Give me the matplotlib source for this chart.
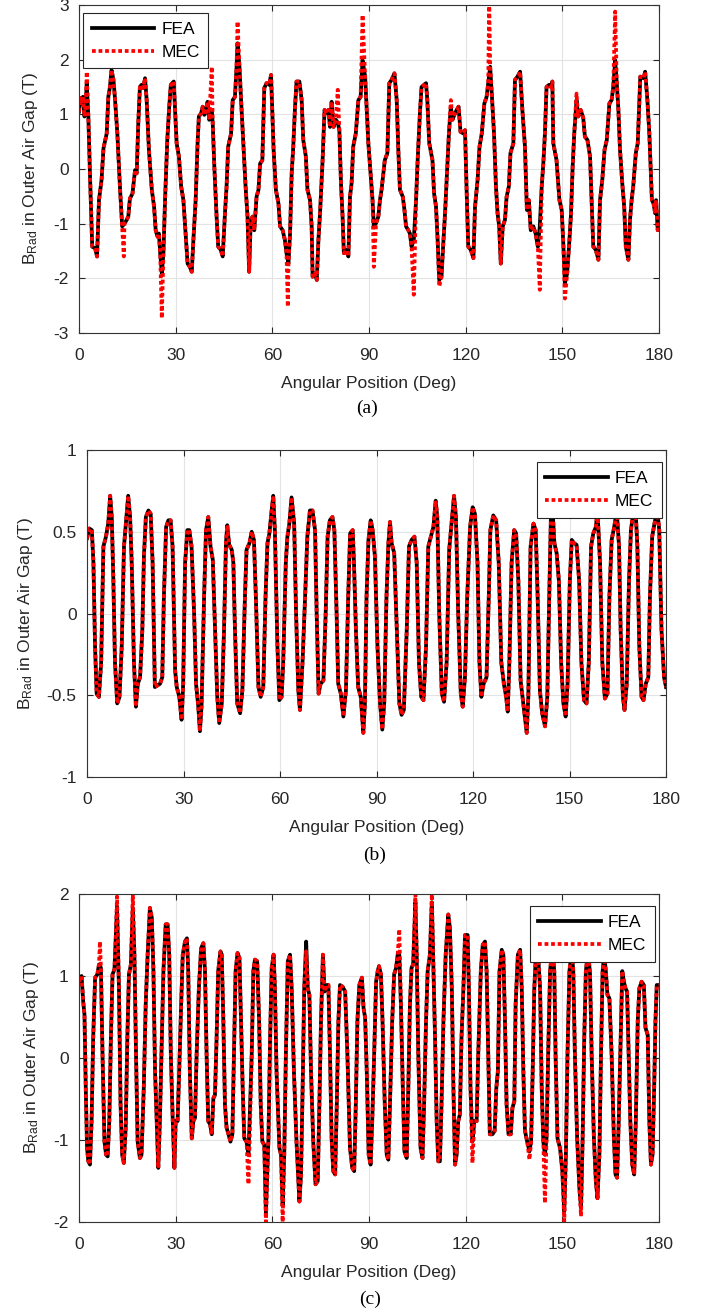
import matplotlib
matplotlib.use('Agg')
import matplotlib.pyplot as plt

# angular position (deg) and radial flux density (T)
ang_a = [0.0, 0.4, 0.8, 1.2, 1.7, 2.1, 2.4, 2.9, 3.4, 4.1, 5.0, 5.6, 6.2, 7.0, 7.6, 8.6, 9.1, 9.6, 10.1, 10.7,
         11.2, 11.9, 12.7, 13.4, 14.1, 14.8, 15.3, 15.8, 16.6, 17.4, 17.9, 18.4, 18.9, 19.4, 19.9, 20.5, 21.0,
         21.7, 22.6, 23.3, 23.8, 24.4, 24.8, 25.2, 25.7, 26.2, 26.7, 27.4, 28.0, 28.5, 29.4, 29.8, 30.3, 31.0,
         31.7, 32.4, 33.1, 33.7, 34.4, 35.0, 35.5, 36.2, 36.8, 37.2, 37.9, 38.4, 38.9, 39.4, 39.9, 40.4, 41.2,
         41.5, 42.0, 42.7, 43.2, 44.0, 44.6, 45.3, 45.8, 46.3, 47.2, 47.7, 48.4, 48.9, 49.2, 49.8, 50.3, 51.0,
         51.7, 52.3, 52.8, 53.3, 53.9, 54.4, 55.1, 55.7, 56.2, 56.9, 57.5, 58.2, 59.0, 59.6, 59.9, 60.4, 61.1,
         61.9, 62.4, 63.2, 63.9, 64.4, 65.0, 65.5, 66.0, 66.5, 67.0, 67.5, 68.4, 69.1, 69.6, 70.4, 70.9, 71.7,
         72.2, 72.5, 73.2, 73.8, 74.3, 74.8, 75.6, 76.2, 76.7, 77.4, 77.9, 78.4, 79.0, 79.7, 80.3, 80.8, 81.3,
         81.8, 82.2, 82.9, 83.6, 84.1, 84.6, 85.1, 85.9, 86.7, 87.4, 88.0, 88.8, 89.3, 89.8, 90.5, 91.1, 91.5,
         92.2, 92.9, 93.4, 93.9, 94.9, 95.7, 96.3, 97.0, 97.9, 98.6, 99.1, 99.6, 100.5, 101.0, 101.5, 102.2,
         102.7, 103.2, 103.9, 104.6, 105.1, 105.8, 106.3, 107.1, 107.7, 108.1, 108.7, 109.7, 110.2, 110.8,
         111.3, 111.8, 112.5, 113.0, 113.6, 114.3, 114.8, 115.4, 115.9, 116.7, 117.2, 117.8, 118.4, 119.3,
         119.8, 120.3, 120.8, 121.6, 122.4, 122.9, 123.7, 124.3, 125.0, 125.8, 126.5, 127.0, 127.6, 128.1,
         128.8, 129.4, 129.9, 130.4, 130.9, 131.5, 132.2, 132.7, 133.4, 133.9, 134.8, 135.3, 136.1, 136.9,
         137.6, 138.4, 139.0, 139.6, 140.2, 141.0, 141.7, 142.4, 143.0, 143.6, 144.1, 144.6, 145.1, 145.9,
         146.5, 146.9, 147.2, 148.2, 149.1, 149.8, 150.3, 150.8, 151.5, 152.2, 152.7, 153.2, 153.7, 154.4,
         154.9, 155.7, 156.5, 157.0, 157.8, 158.6, 159.1, 159.6, 160.4, 161.2, 161.7, 162.4, 163.1, 163.8,
         164.6, 165.3, 165.8, 166.4, 166.9, 167.4, 167.9, 168.6, 169.2, 169.7, 170.5, 171.0, 171.5, 172.0,
         172.8, 173.4, 174.2, 175.2, 175.7, 176.4, 177.0, 177.8, 178.3, 178.8, 179.1, 179.6, 180.0]
fea_a = [1.05, 1.3, 1.2, 1.32, 0.96, 1.2, 1.57, 0.96, -0.08, -1.42, -1.45, -1.6, -0.57, -0.2, 0.38, 0.65, 1.32,
         1.5, 1.81, 1.63, 1.26, 0.65, -0.32, -1.05, -1.0, -0.93, -0.87, -0.54, -0.45, -0.02, -0.08, 0.84, 1.5,
         1.54, 1.48, 1.66, 1.26, 0.35, -0.38, -0.69, -1.12, -1.24, -1.18, -1.54, -1.91, -1.54, -0.57, 0.53, 1.14,
         1.54, 1.6, 1.08, 0.47, 0.23, -0.32, -0.57, -1.18, -1.73, -1.79, -1.88, -1.3, -0.57, 0.47, 0.96, 1.02,
         1.14, 0.99, 1.08, 1.23, 0.9, 1.08, 0.84, 0.04, -0.87, -1.42, -1.48, -1.6, -0.81, -0.32, 0.41, 0.65,
         1.26, 1.32, 1.87, 2.3, 1.87, 1.26, 0.47, -0.32, -0.87, -1.88, -0.93, -0.87, -1.12, -0.51, -0.38, 0.1,
         0.16, 1.48, 1.57, 1.54, 1.72, 1.2, 0.35, -0.38, -0.63, -1.05, -1.12, -1.3, -1.54, -1.73, -1.18, -0.08,
         0.41, 1.08, 1.6, 1.6, 1.26, 0.53, 0.23, -0.38, -0.57, -1.05, -1.97, -1.91, -2.03, -1.3, -0.81, 0.16,
         1.08, 1.02, 1.08, 0.77, 1.23, 0.77, 0.9, 0.85, 0.71, -0.26, -0.87, -1.54, -1.48, -1.6, -0.51, -0.26,
         0.41, 0.65, 1.26, 1.32, 1.99, 1.69, 1.08, 0.47, -0.08, -0.57, -1.05, -0.99, -0.87, -0.57, -0.38, 0.16,
         0.29, 1.57, 1.63, 1.75, 1.26, 0.35, -0.38, -0.51, -0.75, -1.05, -1.12, -1.18, -1.42, -1.3, -0.57, 0.16,
         1.02, 1.5, 1.54, 1.57, 1.26, 0.47, 0.16, -0.45, -0.69, -1.3, -2.03, -1.97, -1.42, -0.81, 0.04, 0.65,
         1.14, 0.9, 1.02, 1.08, 1.14, 0.68, 0.65, 0.71, -0.4, -1.42, -1.48, -1.63, -0.69, -0.2, 0.41, 0.65, 1.2,
         1.32, 1.57, 1.87, 1.38, 0.65, -0.32, -0.81, -1.05, -1.73, -1.05, -0.93, -0.51, -0.32, 0.29, 0.47, 1.63,
         1.69, 1.78, 1.08, 0.41, -0.75, -0.57, -1.12, -1.05, -1.18, -1.42, -1.05, -0.32, 0.1, 0.65, 1.5, 1.54,
         1.5, 1.6, 0.47, 0.16, -0.57, -0.75, -1.36, -2.09, -1.91, -1.3, -0.81, 0.04, 0.65, 1.26, 0.96, 1.08,
         0.93, 0.59, 0.53, 0.23, -0.57, -1.42, -1.48, -1.66, -0.57, -0.2, 0.35, 0.53, 1.2, 1.26, 1.5, 1.99, 1.57,
         1.08, 0.35, -0.26, -0.69, -1.42, -1.66, -0.93, -0.57, -0.32, 0.29, 0.47, 1.69, 1.66, 1.78, 1.26, 0.65,
         -0.57, -0.63, -0.81, -0.57, -1.12, -0.99]
# MEC follows FEA except at these narrow spikes
mec_spike_ang_a = [2.4, 13.9, 25.7, 41.2, 49.2, 64.8, 80.3, 88.0, 91.5, 103.9, 111.8, 115.4, 127.3, 143.0,
                   150.8, 154.4, 166.4]
mec_spike_val_a = [1.78, -1.6, -2.73, 1.87, 2.7, -2.52, 1.45, 2.82, -1.79, -2.3, -2.15, 1.26, 3.1, -2.21,
                   -2.37, 1.38, 2.88]

ang_b = [0.0, 0.7, 1.5, 2.0, 2.5, 3.0, 3.7, 4.4, 5.1, 5.9, 6.6, 7.2, 7.7, 8.2, 8.7, 9.4, 10.1, 10.8, 11.5, 12.1,
         12.8, 13.4, 13.9, 14.6, 15.2, 15.8, 16.5, 17.2, 17.7, 18.3, 19.1, 19.8, 20.4, 21.1, 21.9, 22.7, 23.4,
         23.9, 24.6, 25.3, 26.0, 26.6, 27.4, 27.9, 28.7, 29.4, 29.9, 30.5, 31.2, 31.8, 32.5, 33.3, 33.9, 34.6,
         35.1, 35.6, 36.4, 37.0, 37.7, 38.4, 39.1, 39.8, 40.5, 41.1, 41.9, 42.6, 43.2, 43.6, 44.2, 45.0, 45.5,
         46.0, 46.7, 47.6, 48.3, 49.1, 49.6, 50.5, 51.2, 51.9, 52.5, 53.3, 54.0, 54.8, 55.5, 56.1, 56.7, 57.4,
         57.9, 58.4, 59.2, 59.8, 60.5, 61.0, 61.8, 62.3, 62.9, 63.6, 64.4, 65.0, 65.7, 66.2, 67.0, 67.8, 68.5,
         69.3, 70.1, 70.9, 71.4, 72.0, 72.6, 73.5, 74.2, 74.8, 75.5, 76.3, 76.9, 77.6, 78.1, 78.9, 79.7, 80.5,
         81.2, 81.8, 82.6, 83.0, 83.6, 84.3, 85.1, 85.9, 86.4, 86.9, 87.5, 88.2, 88.8, 89.5, 90.3, 91.1, 91.8,
         92.4, 93.1, 93.7, 94.2, 94.7, 95.5, 96.3, 97.1, 97.8, 98.5, 99.4, 100.1, 100.9, 101.8, 102.5, 103.2,
         103.9, 104.6, 105.4, 106.1, 106.9, 107.7, 108.4, 108.9, 109.5, 110.3, 111.0, 111.8, 112.6, 113.4,
         114.1, 114.7, 115.4, 116.2, 116.8, 117.5, 118.2, 119.1, 119.9, 120.6, 121.4, 122.0, 122.6, 123.3,
         124.2, 124.9, 125.4, 126.3, 127.2, 128.0, 128.8, 129.6, 130.3, 130.8, 131.3, 132.0, 132.8, 133.4,
         134.1, 134.8, 135.4, 136.0, 136.7, 137.2, 137.9, 138.8, 139.5, 140.1, 140.8, 141.5, 142.4, 143.1,
         143.7, 144.2, 144.7, 145.3, 146.0, 146.7, 147.4, 148.1, 148.8, 149.4, 150.1, 150.7, 151.4, 152.2,
         153.0, 153.7, 154.5, 155.3, 156.0, 156.7, 157.4, 158.2, 158.7, 159.5, 160.2, 161.0, 161.8, 162.4,
         163.1, 163.9, 164.7, 165.4, 165.9, 166.6, 167.1, 167.8, 168.5, 169.1, 169.9, 170.6, 171.1, 171.7,
         172.4, 173.0, 173.7, 174.5, 175.0, 175.7, 176.6, 177.3, 177.9, 178.6, 179.4, 180.0]
fea_b = [0.46, 0.52, 0.51, 0.31, -0.2, -0.49, -0.51, -0.3, 0.41, 0.47, 0.55, 0.72, 0.59, 0.2, -0.3, -0.55, -0.51,
         -0.2, 0.41, 0.55, 0.72, 0.59, 0.31, -0.3, -0.57, -0.43, -0.39, -0.1, 0.35, 0.59, 0.63, 0.61, 0.31, -0.45,
         -0.44, -0.43, -0.39, 0.1, 0.53, 0.57, 0.57, 0.41, -0.35, -0.45, -0.51, -0.65, -0.43, 0.31, 0.51, 0.51,
         0.41, 0.0, -0.43, -0.57, -0.72, -0.57, 0.1, 0.51, 0.59, 0.41, 0.33, -0.1, -0.51, -0.67, -0.55, -0.1,
         0.43, 0.54, 0.42, 0.39, 0.31, -0.1, -0.55, -0.61, -0.47, 0.1, 0.39, 0.43, 0.5, 0.45, 0.1, -0.45, -0.51,
         -0.45, 0.1, 0.43, 0.49, 0.63, 0.72, 0.51, -0.2, -0.53, -0.51, -0.3, 0.31, 0.47, 0.55, 0.71, 0.55, 0.0,
         -0.47, -0.59, -0.3, 0.1, 0.47, 0.63, 0.63, 0.51, 0.0, -0.49, -0.43, -0.41, 0.0, 0.47, 0.57, 0.59, 0.51,
         0.0, -0.43, -0.49, -0.63, -0.47, 0.1, 0.49, 0.51, 0.31, -0.1, -0.45, -0.51, -0.73, -0.55, 0.1, 0.45,
         0.57, 0.51, 0.35, -0.2, -0.55, -0.71, -0.55, 0.1, 0.43, 0.56, 0.43, 0.37, -0.1, -0.55, -0.62, -0.59,
         -0.1, 0.41, 0.45, 0.47, 0.31, -0.3, -0.51, -0.53, -0.2, 0.41, 0.47, 0.53, 0.69, 0.59, 0.0, -0.49,
         -0.54, -0.3, 0.39, 0.57, 0.72, 0.59, 0.0, -0.49, -0.57, -0.39, 0.1, 0.53, 0.65, 0.61, 0.31, -0.3,
         -0.51, -0.43, -0.39, 0.1, 0.51, 0.6, 0.57, 0.31, -0.3, -0.43, -0.51, -0.6, -0.3, 0.31, 0.51, 0.49, 0.2,
         -0.41, -0.51, -0.61, -0.73, -0.51, 0.41, 0.55, 0.51, 0.1, -0.47, -0.61, -0.69, -0.51, 0.1, 0.57, 0.65,
         0.43, 0.37, 0.2, -0.3, -0.55, -0.63, -0.43, 0.2, 0.45, 0.43, 0.42, 0.2, -0.3, -0.53, -0.55, -0.3, 0.41,
         0.49, 0.53, 0.63, 0.31, -0.3, -0.52, -0.49, 0.1, 0.45, 0.53, 0.63, 0.41, -0.1, -0.51, -0.59, -0.43, 0.2,
         0.51, 0.63, 0.61, 0.41, -0.2, -0.51, -0.53, -0.43, -0.39, 0.1, 0.47, 0.57, 0.63, 0.51, -0.1, -0.39,
         -0.45]
mec_spike_ang_b = []
mec_spike_val_b = []

ang_c = [0.0, 0.8, 1.3, 1.7, 2.1, 2.5, 2.9, 3.4, 3.9, 4.4, 5.0, 5.7, 6.2, 6.8, 7.3, 7.9, 8.4, 8.9, 9.4, 9.9,
         10.4, 11.0, 11.4, 11.8, 12.4, 12.9, 13.4, 13.9, 14.5, 15.0, 15.5, 16.1, 16.7, 17.2, 17.7, 18.2, 18.9,
         19.4, 20.1, 20.7, 21.3, 22.0, 22.6, 23.1, 23.6, 24.1, 24.6, 25.1, 25.7, 26.2, 26.9, 27.5, 28.0, 28.5,
         29.1, 29.6, 30.0, 30.6, 31.1, 31.7, 32.2, 32.9, 33.5, 33.9, 34.4, 35.0, 35.5, 36.0, 36.5, 37.2, 37.9,
         38.6, 39.1, 39.6, 40.1, 40.7, 41.2, 41.7, 42.2, 42.7, 43.2, 43.9, 44.3, 44.8, 45.3, 45.8, 46.4, 47.0,
         47.6, 48.1, 48.6, 49.2, 49.8, 50.3, 50.8, 51.3, 52.0, 52.6, 53.6, 54.1, 54.6, 55.3, 55.9, 56.4, 56.9,
         57.5, 58.0, 58.8, 59.3, 59.8, 60.4, 60.8, 61.3, 62.2, 62.7, 63.2, 63.7, 64.2, 64.8, 65.5, 66.0, 66.7,
         67.5, 68.4, 68.9, 69.4, 69.9, 70.5, 71.0, 71.5, 72.0, 72.7, 73.4, 74.1, 74.6, 75.1, 75.7, 76.2, 76.9,
         77.4, 77.9, 78.4, 78.9, 79.5, 80.0, 80.5, 81.0, 81.8, 82.6, 83.3, 84.1, 84.8, 85.4, 85.9, 86.4, 87.0,
         87.8, 88.3, 88.8, 89.3, 89.9, 90.5, 91.0, 91.6, 92.2, 92.7, 93.1, 93.7, 94.2, 94.9, 95.5, 96.0, 96.5,
         97.2, 97.8, 98.4, 98.9, 99.4, 99.9, 100.5, 101.0, 101.7, 102.2, 102.7, 103.2, 103.7, 104.4, 104.8,
         105.3, 106.0, 106.6, 107.1, 107.7, 108.2, 108.9, 109.5, 109.9, 110.5, 111.0, 111.5, 112.0, 112.5,
         113.1, 113.8, 114.6, 115.1, 115.7, 116.2, 116.7, 117.2, 117.7, 118.2, 118.7, 119.3, 119.8, 120.6,
         121.0, 121.5, 122.1, 122.7, 123.4, 123.9, 124.7, 125.3, 126.0, 126.5, 127.0, 127.5, 128.3, 129.0,
         129.5, 130.0, 130.5, 131.2, 131.7, 132.2, 132.7, 133.3, 134.0, 134.5, 135.1, 135.5, 136.2, 136.9,
         137.4, 137.9, 138.4, 139.1, 139.8, 140.3, 140.8, 141.3, 141.8, 142.4, 143.1, 143.6, 144.1, 144.6,
         145.1, 145.6, 146.2, 146.9, 147.5, 147.9, 148.5, 149.3, 150.0, 150.6, 151.1, 151.6, 152.2, 152.9,
         153.4, 153.9, 154.6, 155.3, 155.8, 156.3, 156.8, 157.3, 158.0, 158.6, 159.1, 159.8, 160.4, 160.9,
         161.5, 162.0, 162.5, 163.0, 163.5, 164.0, 164.6, 165.3, 166.0, 166.5, 167.0, 167.5, 168.1, 168.6,
         169.1, 169.6, 170.1, 170.6, 171.1, 171.7, 172.3, 172.8, 173.4, 173.9, 174.6, 175.3, 175.8, 176.5,
         177.0, 177.5, 178.0, 178.5, 178.9, 179.3, 179.8]
fea_c = [0.93, 1.0, 0.69, 0.53, -0.37, -1.1, -1.26, -1.3, -0.77, 0.24, 0.98, 1.02, 1.14, 1.1, 0.04, -1.02, -1.18,
         -1.2, -0.77, 0.24, 1.02, 1.08, 1.46, 1.85, 0.85, -0.57, -1.18, -1.28, -0.85, 0.24, 1.02, 1.14, 1.83, 1.26,
         0.04, -1.02, -1.22, -1.18, -0.37, 0.65, 1.26, 1.83, 1.71, 1.06, -0.16, -0.77, -1.34, -0.77, 0.24, 1.06,
         1.63, 1.63, 1.26, 0.04, -0.77, -1.34, -0.77, -0.77, -0.16, 0.65, 1.26, 1.42, 1.46, 1.06, -0.16, -0.98,
         -0.77, -0.73, 0.04, 0.85, 1.34, 1.4, 1.06, 0.04, -0.77, -0.81, -0.93, -0.49, -0.45, 0.24, 1.06, 1.3,
         1.26, 0.45, -0.57, -0.85, -0.93, -1.02, -0.93, 0.04, 1.06, 1.28, 1.22, 0.45, -0.37, -0.98, -1.02, -1.18,
         0.04, 1.06, 1.2, 1.18, 0.45, -0.57, -1.02, -1.06, -1.9, -0.98, 0.24, 1.1, 1.26, 0.85, -0.16, -1.1, -1.18,
         -1.8, -1.18, 0.04, 1.18, 1.26, 0.85, -0.16, -1.02, -1.75, -1.42, -0.37, 0.85, 1.42, 0.85, 0.77, -0.16,
         -1.02, -1.54, -1.5, -0.57, 0.45, 1.26, 0.81, 0.89, 0.89, 0.04, -0.98, -1.38, -1.42, -0.57, 0.45, 0.89,
         0.87, 0.81, 0.04, -1.1, -1.34, -1.38, -0.57, 0.45, 0.89, 0.98, 0.61, 0.49, -0.16, -1.18, -1.3, -0.77,
         0.04, 0.93, 1.06, 1.12, 1.02, 0.45, -0.57, -1.18, -1.24, -0.57, 0.45, 1.02, 1.1, 1.26, 1.26, 0.65, -0.37,
         -1.14, -1.22, -0.37, 0.65, 1.1, 1.14, 1.9, 1.26, 0.04, -1.1, -1.22, -0.57, 0.45, 1.06, 1.26, 1.9, 1.26,
         0.24, -0.77, -1.26, -1.26, -0.57, 0.45, 1.26, 1.75, 1.59, 0.85, -0.37, -1.3, -1.18, -0.77, -0.69, 0.24,
         0.85, 1.5, 1.5, 0.85, -0.37, -1.02, -0.77, -0.77, 0.04, 1.06, 1.38, 1.42, 1.06, 0.04, -0.93, -0.93,
         -0.89, -0.37, -0.16, 1.06, 1.32, 1.26, 0.45, -0.57, -0.93, -0.93, -0.61, -0.53, 0.65, 1.26, 1.32, 0.85,
         -0.16, -0.89, -1.02, -1.14, -1.02, -0.16, 0.85, 1.26, 1.3, 0.85, -0.37, -1.02, -1.18, -0.98, 0.04, 1.06,
         1.34, 1.06, 0.04, -0.98, -1.1, -1.38, -1.87, -1.18, 0.04, 1.06, 1.3, 1.06, 0.04, -0.98, -1.59, -1.83,
         -0.98, 0.24, 1.06, 1.3, 1.02, 0.04, -0.98, -1.5, -1.71, -1.18, 0.04, 1.06, 1.26, 1.06, 0.77, 0.73, 0.04,
         -0.98, -1.42, -1.46, -0.77, 0.24, 1.06, 0.93, 0.85, 0.81, 0.04, -0.77, -1.3, -1.42, -0.77, 0.45, 0.85,
         0.93, 0.89, 0.37, 0.28, -0.77, -1.3, -1.18, -0.37, 0.45, 0.89, 0.89]
mec_spike_ang_c = [6.5, 11.8, 16.7, 52.6, 58.0, 63.2, 70.5, 99.4, 104.4, 109.5, 122.1, 139.8, 144.6, 150.6, 155.8]
mec_spike_val_c = [1.42, 1.97, 1.99, -1.54, -2.0, -2.0, 1.3, 1.57, 2.0, 2.0, -1.28, -1.24, -1.77, -1.99, -1.93]

xticks = [0, 30, 60, 90, 120, 150, 180]
yticks_a = [-3, -2, -1, 0, 1, 2, 3]
yticks_b = [-1, -0.5, 0, 0.5, 1]
yticks_c = [-2, -1, 0, 1, 2]

plt.rcParams['font.family'] = ['Liberation Sans', 'DejaVu Sans']
plt.rcParams['mathtext.default'] = 'regular'
plt.rcParams['axes.unicode_minus'] = False

INK = '#262626'


def mec_series(ang, fea, sp_ang, sp_val):
    pts = dict(zip(ang, fea))
    for a, v in zip(sp_ang, sp_val):
        pts[a] = v
    keys = sorted(pts)
    return keys, [pts[k] for k in keys]


def panel(ax, ang, fea, sp_ang, sp_val, yticks, ylab_x, leg_loc, leg_anchor):
    mang, mec = mec_series(ang, fea, sp_ang, sp_val)
    ax.plot(ang, fea, color='black', linewidth=2.7, label='FEA', solid_joinstyle='round')
    ax.plot(mang, mec, color='red', linewidth=2.7, linestyle=(0, (1, 0.75)), label='MEC')
    ax.set_xlim(0, 180)
    ax.set_ylim(yticks[0], yticks[-1])
    ax.set_xticks(xticks)
    ax.set_yticks(yticks)
    ax.set_yticklabels(['%g' % t for t in yticks])
    ax.grid(True, color='#e3e3e3', linewidth=0.8)
    ax.set_axisbelow(True)
    ax.tick_params(direction='in', top=True, right=True, length=4, width=0.8, color=INK,
                   labelcolor=INK, labelsize=12.5)
    ax.tick_params(axis='x', pad=11)
    ax.tick_params(axis='y', pad=7.5)
    for s in ax.spines.values():
        s.set_color('#333333')
        s.set_linewidth(0.8)
    ax.set_xlabel('Angular Position (Deg)', fontsize=12.5, color=INK)
    ax.set_ylabel('B$_{Rad}$ in Outer Air Gap (T)', fontsize=12.5, color=INK)
    ax.xaxis.set_label_coords(0.5, -0.132)
    ax.yaxis.set_label_coords(ylab_x, 0.5)
    leg = ax.legend(loc=leg_loc, bbox_to_anchor=leg_anchor, borderaxespad=0, fontsize=12.5,
                    handlelength=3.6, handletextpad=0.4, borderpad=0.5, labelspacing=0.45,
                    fancybox=False, framealpha=1, edgecolor=INK)
    leg.get_frame().set_linewidth(0.8)
    for t in leg.get_texts():
        t.set_color('black')


fig = plt.figure(figsize=(7.05, 13.11), dpi=100)
ax_a = fig.add_axes([79 / 705, 1 - 333 / 1311, 580 / 705, 328 / 1311])
ax_b = fig.add_axes([87 / 705, 1 - 777 / 1311, 579 / 705, 327 / 1311])
ax_c = fig.add_axes([79 / 705, 1 - 1222 / 1311, 580 / 705, 328 / 1311])

panel(ax_a, ang_a, fea_a, mec_spike_ang_a, mec_spike_val_a, yticks_a, -0.068, 'upper left', (0.007, 0.976))
panel(ax_b, ang_b, fea_b, mec_spike_ang_b, mec_spike_val_b, yticks_b, -0.09, 'upper right', (0.993, 0.963))
panel(ax_c, ang_c, fea_c, mec_spike_ang_c, mec_spike_val_c, yticks_c, -0.066, 'upper right', (0.993, 0.963))

for lab, x, y in [('(a)', 367, 408), ('(b)', 375, 855), ('(c)', 370, 1299)]:
    fig.text(x / 705, 1 - y / 1311, lab, family=['Liberation Serif', 'DejaVu Serif'], fontsize=14,
             ha='center', va='center', color='black')

fig.savefig('out.png', dpi=100)
